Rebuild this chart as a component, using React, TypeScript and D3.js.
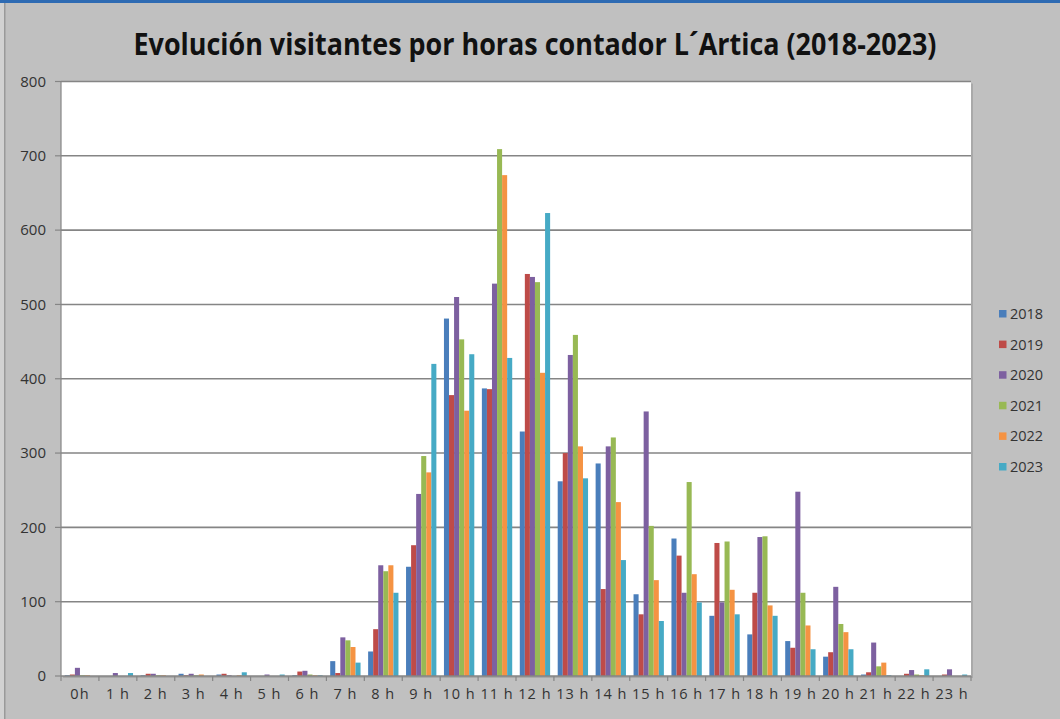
import { range, scaleBand, scaleLinear } from 'd3'

const HOURS = [
  '0h', '1 h', '2 h', '3 h', '4 h', '5 h', '6 h', '7 h', '8 h', '9 h', '10 h', '11 h',
  '12 h', '13 h', '14 h', '15 h', '16 h', '17 h', '18 h', '19 h', '20 h', '21 h', '22 h', '23 h',
]
const YEARS = ['2018', '2019', '2020', '2021', '2022', '2023']
const Y_TICKS = [0, 100, 200, 300, 400, 500, 600, 700, 800]

const v2018 = [1, 0, 1, 3, 2, 0, 1, 20, 33, 147, 481, 387, 329, 262, 286, 110, 185, 81, 56, 47, 26, 2, 0, 0]
const v2019 = [2, 0, 3, 1, 3, 0, 6, 4, 63, 176, 378, 386, 541, 300, 117, 83, 162, 179, 112, 38, 32, 5, 3, 2]
const v2020 = [11, 4, 3, 3, 1, 2, 7, 52, 149, 245, 510, 528, 537, 432, 309, 356, 112, 99, 187, 248, 120, 45, 8, 9]
const v2021 = [1, 0, 1, 1, 0, 0, 2, 48, 141, 296, 453, 709, 530, 459, 321, 202, 261, 181, 188, 112, 70, 13, 2, 0]
const v2022 = [1, 0, 1, 2, 1, 0, 1, 39, 149, 274, 357, 674, 408, 309, 234, 129, 137, 116, 95, 68, 59, 18, 1, 0]
const v2023 = [0, 4, 0, 0, 5, 2, 1, 18, 112, 420, 433, 428, 623, 266, 156, 74, 99, 83, 81, 36, 36, 1, 9, 2]

const SERIES = [v2018, v2019, v2020, v2021, v2022, v2023]
const COLORS = ['#4a7ebb', '#be4b48', '#7d60a0', '#98b954', '#f59343', '#46aac5']

const W = 1060
const H = 719
const PLOT = { left: 61, right: 971, top: 81.5, bottom: 676 }
const FONT = '"Open Sans", "Liberation Sans", sans-serif'

export default function App() {
  const x = scaleBand<string>().domain(HOURS).range([PLOT.left, PLOT.right])
  const inner = scaleBand<string>()
    .domain(YEARS)
    .range([x.bandwidth() * 0.1, x.bandwidth() * 0.9])
  const y = scaleLinear().domain([0, 800]).range([PLOT.bottom, PLOT.top])

  return (
    <div style={{ position: 'absolute', left: 0, top: 0 }}>
      <svg width={W} height={H} viewBox={`0 0 ${W} ${H}`} style={{ display: 'block' }}>
        <rect x={0} y={0} width={W} height={H} fill="#c0c0c0" />
        <rect x={0} y={0} width={4} height={H} fill="#d2d2d2" />
        <rect x={4} y={0} width={1.5} height={H} fill="#9a9a9a" />
        <rect x={0} y={0} width={W} height={3} fill="#2e6bb3" />

        <text
          x={535}
          y={55}
          textAnchor="middle"
          fontFamily={FONT}
          fontWeight={700}
          fontSize={31}
          textLength={803}
          lengthAdjust="spacingAndGlyphs"
          fill="#111"
        >
          Evolución visitantes por horas contador L´Artica (2018-2023)
        </text>

        {/* plot area with its shadow */}
        <rect
          x={PLOT.left + 2}
          y={PLOT.top + 2}
          width={PLOT.right - PLOT.left}
          height={PLOT.bottom - PLOT.top}
          fill="#a9a9a9"
        />
        <rect
          x={PLOT.left}
          y={PLOT.top}
          width={PLOT.right - PLOT.left}
          height={PLOT.bottom - PLOT.top}
          fill="#ffffff"
        />

        {Y_TICKS.map((t) => (
          <g key={t}>
            {t > 0 ? (
              <line x1={PLOT.left} x2={PLOT.right} y1={y(t)} y2={y(t)} stroke="#858585" strokeWidth={1.6} />
            ) : null}
            <line x1={PLOT.left - 6} x2={PLOT.left} y1={y(t)} y2={y(t)} stroke="#858585" strokeWidth={1.2} />
            <text
              x={46}
              y={y(t)}
              dy="0.35em"
              textAnchor="end"
              fontFamily={FONT}
              fontSize={15}
              fill="#333"
            >
              {t}
            </text>
          </g>
        ))}

        {SERIES.map((values, si) =>
          values.map((v, hi) => (
            <rect
              key={`${si}-${hi}`}
              x={(x(HOURS[hi]) ?? 0) + (inner(YEARS[si]) ?? 0)}
              y={y(v)}
              width={inner.bandwidth()}
              height={y(0) - y(v)}
              fill={COLORS[si]}
            />
          )),
        )}

        <line x1={PLOT.left} x2={PLOT.left} y1={PLOT.top} y2={PLOT.bottom} stroke="#858585" strokeWidth={1.2} />
        <line x1={PLOT.left} x2={PLOT.right} y1={PLOT.bottom} y2={PLOT.bottom} stroke="#858585" strokeWidth={1.6} />
        {range(HOURS.length + 1).map((i) => {
          const xx = PLOT.left + i * x.step()
          return (
            <line key={i} x1={xx} x2={xx} y1={PLOT.bottom} y2={PLOT.bottom + 5} stroke="#858585" strokeWidth={1.2} />
          )
        })}
        {HOURS.map((h) => (
          <text
            key={h}
            x={(x(h) ?? 0) + x.bandwidth() / 2}
            y={699}
            textAnchor="middle"
            fontFamily={FONT}
            fontSize={14.5}
            letterSpacing={1}
            fill="#333"
          >
            {h}
          </text>
        ))}

        {YEARS.map((yr, i) => (
          <g key={yr} transform={`translate(999, ${314 + i * 30.6})`}>
            <rect x={0} y={-4} width={7.5} height={7.5} fill={COLORS[i]} />
            <text x={11} y={0} dy="0.35em" fontFamily={FONT} fontSize={14.5} fill="#333">
              {yr}
            </text>
          </g>
        ))}
      </svg>
    </div>
  )
}
